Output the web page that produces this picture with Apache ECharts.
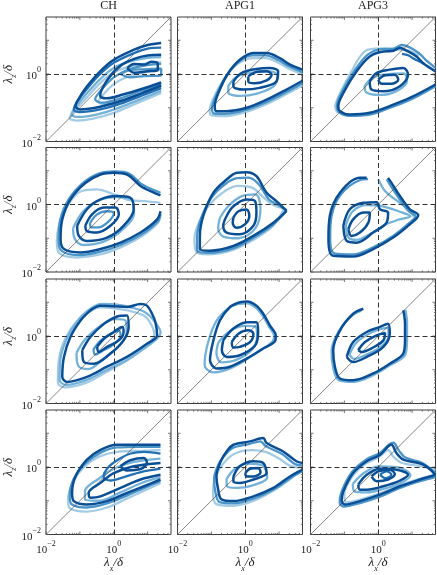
<!DOCTYPE html>
<html><head><meta charset="utf-8">
<script src="https://cdn.jsdelivr.net/npm/echarts@6/dist/echarts.min.js"></script>
<style>html,body{margin:0;padding:0;background:#fff}#c{width:437px;height:575px}</style>
</head><body><div id="c"></div>
<script>
// ---- column titles and axis ticks ----
const columnTitles = ['CH', 'APG1', 'APG3'];
const labelledDecades = [-2, 0];
const majorTicks = [0.01, 0.1, 1, 10];
const minorTicks = [0.02,0.03,0.04,0.05,0.06,0.07,0.08,0.09,0.2,0.3,0.4,0.5,0.6,0.7,0.8,0.9,2,3,4,5,6,7,8,9,20,30,40];
const AXIS_MIN = 0.01, AXIS_MAX = 48.98;

// ---- contour lines, points as [log10(lambda_x/delta), log10(lambda_z/delta)]; first item = case index (0 lightest .. 4 darkest) ----
const CH_1 = [
 [0,[[1.4,0.35],[0.9,0.3],[0.4,0.2],[0.0,0.05],[-0.4,-0.27],[-0.8,-0.7],[-1.15,-1.08],[-1.3,-1.3],[-1.1,-1.38],[-0.6,-1.32],[0.0,-1.15],[0.6,-0.9],[1.4,-0.56]]],
 [1,[[1.4,0.5],[1.0,0.48],[0.5,0.38],[0.0,0.18],[-0.4,-0.15],[-0.8,-0.58],[-1.1,-0.95],[-1.25,-1.2],[-1.05,-1.27],[-0.5,-1.2],[0.1,-1.02],[0.7,-0.78],[1.4,-0.5]]],
 [3,[[1.4,0.78],[1.0,0.75],[0.6,0.62],[0.0,0.33],[-0.4,0.0],[-0.8,-0.45],[-1.05,-0.78],[-1.18,-1.05],[-1.0,-1.13],[-0.4,-1.05],[0.2,-0.88],[0.8,-0.65],[1.4,-0.42]]],
 [4,[[1.4,0.92],[1.0,0.86],[0.6,0.72],[0.0,0.42],[-0.4,0.08],[-0.8,-0.38],[-1.0,-0.68],[-1.13,-0.95],[-1.0,-1.05],[-0.4,-0.97],[0.2,-0.8],[0.8,-0.58],[1.4,-0.34]]],
 [0,[[1.4,0.12],[0.9,0.05],[0.4,-0.08],[0.0,-0.3],[-0.3,-0.6],[-0.45,-0.82],[-0.25,-0.9],[0.3,-0.78],[0.9,-0.55],[1.4,-0.38]]],
 [2,[[1.4,0.3],[0.9,0.25],[0.4,0.12],[0.0,-0.1],[-0.35,-0.45],[-0.55,-0.75],[-0.35,-0.85],[0.2,-0.72],[0.8,-0.5],[1.4,-0.3]]],
 [4,[[1.4,0.57],[1.0,0.55],[0.6,0.45],[0.2,0.25],[-0.1,-0.05],[-0.35,-0.45],[-0.4,-0.65],[-0.2,-0.72],[0.3,-0.6],[0.8,-0.45],[1.4,-0.25]]],
 [2,[[0.2,0.0],[0.5,0.12],[0.9,0.14],[1.4,0.16],[1.4,-0.05],[0.9,-0.06],[0.5,-0.1],[0.2,0.0]]],
 [4,[[0.4,0.18],[0.6,0.3],[0.9,0.28],[1.1,0.36],[1.3,0.32],[1.3,0.12],[1.0,0.08],[0.6,0.04],[0.4,0.18]]]
];
const APG1_1 = [
 [0,[[1.69,0.0],[1.3,0.15],[1.0,0.32],[0.6,0.47],[0.2,0.47],[-0.25,0.28],[-0.6,-0.1],[-0.88,-0.6],[-1.05,-1.08],[-1.0,-1.22],[-0.65,-1.25],[0.0,-1.13],[0.6,-0.9],[1.2,-0.6],[1.69,-0.33]]],
 [2,[[1.69,0.05],[1.3,0.22],[1.0,0.4],[0.6,0.55],[0.2,0.55],[-0.2,0.35],[-0.55,-0.05],[-0.82,-0.55],[-0.98,-1.02],[-0.92,-1.17],[-0.6,-1.18],[0.0,-1.07],[0.6,-0.84],[1.2,-0.54],[1.69,-0.27]]],
 [4,[[1.69,0.13],[1.32,0.28],[1.02,0.47],[0.63,0.62],[0.24,0.62],[-0.16,0.42],[-0.5,0.03],[-0.75,-0.46],[-0.9,-0.95],[-0.85,-1.1],[-0.55,-1.1],[0.04,-1.0],[0.63,-0.76],[1.22,-0.46],[1.69,-0.2]]],
 [1,[[-0.5,-0.35],[-0.25,-0.08],[0.25,0.05],[0.75,0.08],[0.95,-0.05],[0.85,-0.35],[0.35,-0.58],[-0.15,-0.65],[-0.5,-0.55],[-0.5,-0.35]]],
 [4,[[-0.35,-0.22],[-0.11,0.03],[0.33,0.15],[0.73,0.18],[0.97,0.08],[0.92,-0.22],[0.43,-0.41],[-0.06,-0.46],[-0.35,-0.37],[-0.35,-0.22]]],
 [4,[[0.09,-0.07],[0.29,0.05],[0.63,0.08],[0.78,-0.02],[0.63,-0.19],[0.29,-0.27],[0.09,-0.22],[0.09,-0.07]]]
];
const APG3_1 = [
 [0,[[1.2,0.55],[0.9,0.7],[0.6,0.72],[0.2,0.76],[-0.3,0.72],[-0.55,0.5],[-0.8,0.05],[-1.12,-0.55],[-1.27,-0.98],[-1.2,-1.15]]],
 [2,[[1.69,0.18],[1.4,0.42],[1.2,0.62],[0.95,0.78],[0.7,0.86],[0.45,0.75],[0.1,0.74],[-0.3,0.58],[-0.7,0.1],[-1.08,-0.55],[-1.22,-0.95],[-1.17,-1.12],[-0.85,-1.24],[-0.25,-1.2],[0.35,-1.0],[0.95,-0.76],[1.69,-0.36]]],
 [4,[[1.69,0.08],[1.33,0.32],[1.13,0.52],[0.88,0.67],[0.64,0.77],[0.4,0.68],[0.15,0.67],[-0.25,0.52],[-0.64,0.08],[-1.03,-0.56],[-1.18,-0.95],[-1.13,-1.1],[-0.84,-1.2],[-0.25,-1.15],[0.34,-0.95],[0.93,-0.71],[1.69,-0.31]]],
 [3,[[0.7,0.6],[0.9,0.55],[1.05,0.45],[1.2,0.38],[1.35,0.3]]],
 [1,[[-0.4,-0.35],[-0.15,-0.1],[0.3,0.0],[0.75,0.02],[0.85,-0.2],[0.55,-0.5],[0.05,-0.62],[-0.35,-0.55],[-0.4,-0.35]]],
 [4,[[-0.25,-0.22],[-0.05,0.03],[0.34,0.13],[0.74,0.18],[0.88,-0.02],[0.64,-0.36],[0.15,-0.51],[-0.2,-0.46],[-0.25,-0.22]]],
 [4,[[0.0,-0.17],[0.2,-0.04],[0.49,-0.02],[0.59,-0.17],[0.39,-0.29],[0.1,-0.29],[0.0,-0.17]]]
];
const CH_2 = [
 [0,[[1.38,0.05],[0.9,0.1],[0.5,0.12],[0.0,0.3],[-0.5,0.45],[-0.95,0.4],[-1.35,0.0],[-1.6,-0.55],[-1.68,-1.1],[-1.6,-1.45],[-1.1,-1.57],[-0.4,-1.48],[0.2,-1.27],[0.8,-0.96],[1.3,-0.55],[1.38,-0.3]]],
 [2,[[1.38,0.35],[1.2,0.42],[0.8,0.62],[0.45,0.92],[0.05,0.98],[-0.4,0.93],[-0.88,0.66],[-1.33,0.15],[-1.58,-0.45],[-1.63,-1.05],[-1.53,-1.38],[-1.0,-1.5],[-0.4,-1.4],[0.2,-1.2],[0.8,-0.9],[1.3,-0.5],[1.38,-0.28]]],
 [4,[[1.38,0.27],[1.18,0.35],[0.79,0.55],[0.39,0.89],[0.0,0.94],[-0.39,0.89],[-0.84,0.64],[-1.28,0.15],[-1.52,-0.44],[-1.57,-1.03],[-1.47,-1.32],[-0.98,-1.42],[-0.39,-1.32],[0.2,-1.13],[0.79,-0.83],[1.28,-0.44],[1.38,-0.2]]],
 [1,[[-1.2,-0.7],[-0.9,-0.2],[-0.45,0.12],[0.1,0.22],[0.55,0.12],[0.6,-0.25],[0.25,-0.75],[-0.3,-1.1],[-0.9,-1.2],[-1.15,-1.02],[-1.2,-0.7]]],
 [4,[[-1.08,-0.63],[-0.79,-0.14],[-0.39,0.15],[0.1,0.25],[0.49,0.2],[0.59,-0.14],[0.29,-0.63],[-0.2,-0.98],[-0.79,-1.08],[-1.03,-0.93],[-1.08,-0.63]]],
 [2,[[-0.7,-0.55],[-0.5,-0.3],[-0.2,-0.2],[0.0,-0.25],[-0.15,-0.5],[-0.45,-0.68],[-0.68,-0.68],[-0.7,-0.55]]],
 [4,[[-0.84,-0.63],[-0.64,-0.29],[-0.29,-0.09],[0.05,-0.09],[0.15,-0.29],[-0.1,-0.63],[-0.5,-0.83],[-0.79,-0.79],[-0.84,-0.63]]]
];
const APG1_2 = [
 [0,[[1.15,-0.12],[0.8,0.0],[0.5,0.25],[0.2,0.5],[-0.2,0.55],[-0.6,0.4],[-1.05,0.0],[-1.35,-0.5],[-1.5,-1.0],[-1.45,-1.4],[-1.1,-1.48],[-0.4,-1.36],[0.2,-1.07],[0.8,-0.65],[1.15,-0.12]]],
 [2,[[1.22,-0.17],[0.95,0.0],[0.7,0.15],[0.4,0.6],[0.1,0.8],[-0.25,0.78],[-0.6,0.6],[-1.0,0.2],[-1.3,-0.4],[-1.42,-0.95],[-1.42,-1.36],[-1.06,-1.43],[-0.36,-1.3],[0.22,-1.0],[0.82,-0.6],[1.22,-0.17]]],
 [4,[[1.22,-0.19],[0.92,0.1],[0.63,0.35],[0.33,0.84],[0.04,0.96],[-0.25,0.94],[-0.55,0.74],[-0.94,0.35],[-1.24,-0.34],[-1.34,-0.93],[-1.34,-1.32],[-1.04,-1.37],[-0.35,-1.23],[0.24,-0.93],[0.83,-0.54],[1.22,-0.19]]],
 [1,[[-0.75,-0.4],[-0.5,-0.05],[-0.1,0.25],[0.3,0.3],[0.45,-0.1],[0.3,-0.7],[-0.2,-1.0],[-0.65,-0.95],[-0.8,-0.7],[-0.75,-0.4]]],
 [4,[[-0.55,-0.34],[-0.35,-0.05],[0.04,0.15],[0.29,0.1],[0.33,-0.24],[0.24,-0.63],[-0.16,-0.88],[-0.55,-0.83],[-0.65,-0.63],[-0.55,-0.34]]],
 [4,[[-0.35,-0.39],[-0.2,-0.2],[0.04,-0.15],[0.12,-0.34],[-0.01,-0.59],[-0.26,-0.69],[-0.37,-0.54],[-0.35,-0.39]]]
];
const APG3_2 = [
 [1,[[0.0,0.75],[0.2,0.4],[0.5,0.15],[0.9,-0.15],[1.05,-0.35]]],
 [2,[[-0.3,0.75],[-0.55,0.72],[-1.1,0.3],[-1.38,-0.35],[-1.42,-1.0],[-1.3,-1.45],[-0.74,-1.48],[-0.15,-1.27],[0.44,-0.93],[0.9,-0.56],[1.1,-0.34],[0.9,-0.2],[0.6,0.2],[0.35,0.58],[0.25,0.75]]],
 [4,[[-0.34,0.79],[-0.54,0.79],[-1.13,0.35],[-1.43,-0.34],[-1.47,-1.03],[-1.33,-1.52],[-0.74,-1.54],[-0.15,-1.32],[0.44,-0.98],[0.93,-0.59],[1.18,-0.32],[0.93,-0.14],[0.64,0.25],[0.39,0.64],[0.29,0.79]]],
 [1,[[-0.95,-0.6],[-0.75,-0.2],[-0.35,-0.02],[0.1,-0.05],[0.6,-0.2],[0.95,-0.35],[0.6,-0.45],[0.2,-0.6],[-0.2,-0.85],[-0.65,-1.05],[-0.9,-0.95],[-0.95,-0.6]]],
 [4,[[-1.03,-0.63],[-0.84,-0.14],[-0.44,0.05],[-0.05,0.07],[0.05,-0.14],[0.29,-0.24],[0.25,-0.53],[-0.15,-0.83],[-0.64,-1.13],[-0.93,-1.08],[-1.03,-0.63]]],
 [4,[[-0.88,-0.73],[-0.74,-0.44],[-0.44,-0.24],[-0.25,-0.24],[-0.29,-0.53],[-0.54,-0.83],[-0.79,-0.93],[-0.88,-0.73]]]
];
const CH_3 = [
 [0,[[-0.75,0.7],[-0.4,0.85],[0.0,0.82],[0.45,0.75],[0.9,0.6],[1.1,0.35],[1.2,0.05],[0.95,-0.3],[0.4,-0.72],[-0.2,-1.06],[-0.8,-1.38],[-1.45,-1.52],[-1.65,-1.38],[-1.62,-0.7],[-1.42,-0.05],[-1.1,0.42],[-0.75,0.7]]],
 [1,[[-0.7,0.8],[-0.35,0.95],[0.1,0.93],[0.5,0.85],[0.9,0.72],[1.15,0.5],[1.38,0.1],[1.3,-0.05],[1.0,-0.3],[0.4,-0.7],[-0.2,-1.0],[-0.8,-1.3],[-1.4,-1.45],[-1.6,-1.3],[-1.57,-0.65],[-1.35,0.0],[-1.03,0.5],[-0.7,0.8]]],
 [4,[[-0.69,0.76],[-0.39,0.9],[0.0,0.88],[0.39,0.86],[0.79,0.95],[0.98,0.9],[1.13,0.66],[1.23,0.41],[1.28,0.02],[0.98,-0.23],[0.39,-0.62],[-0.2,-0.91],[-0.79,-1.21],[-1.38,-1.36],[-1.52,-1.21],[-1.47,-0.62],[-1.28,-0.03],[-0.98,0.46],[-0.69,0.76]]],
 [1,[[-1.1,-0.5],[-0.85,-0.1],[-0.4,0.3],[0.05,0.5],[0.35,0.45],[0.38,0.1],[0.15,-0.3],[-0.3,-0.68],[-0.75,-0.98],[-1.05,-0.88],[-1.1,-0.5]]],
 [4,[[-0.93,-0.42],[-0.69,-0.03],[-0.29,0.36],[0.1,0.58],[0.39,0.61],[0.44,0.27],[0.29,-0.13],[-0.1,-0.52],[-0.59,-0.82],[-0.88,-0.77],[-0.93,-0.42]]],
 [2,[[-0.6,-0.4],[-0.4,-0.15],[-0.1,0.05],[0.15,0.15],[0.2,0.0],[0.0,-0.25],[-0.35,-0.45],[-0.55,-0.55],[-0.6,-0.4]]],
 [4,[[-0.49,-0.32],[-0.29,-0.08],[0.0,0.12],[0.25,0.27],[0.29,0.12],[0.15,-0.13],[-0.2,-0.32],[-0.44,-0.47],[-0.49,-0.32]]]
];
const APG1_3 = [
 [1,[[-0.2,0.95],[0.05,0.97],[0.3,0.85],[0.5,0.62],[0.7,0.28],[0.85,0.0],[0.8,-0.17],[0.45,-0.42],[0.0,-0.72],[-0.5,-0.98],[-0.95,-1.08],[-1.2,-0.85],[-1.1,-0.2],[-0.85,0.45],[-0.5,0.82],[-0.2,0.95]]],
 [4,[[-0.16,1.0],[0.04,1.02],[0.33,0.9],[0.53,0.66],[0.73,0.31],[0.9,0.02],[0.89,-0.13],[0.53,-0.37],[0.04,-0.67],[-0.45,-0.91],[-0.85,-0.96],[-1.04,-0.72],[-0.94,-0.13],[-0.75,0.46],[-0.45,0.86],[-0.16,1.0]]],
 [1,[[-0.8,-0.2],[-0.45,0.15],[0.0,0.3],[0.3,0.28],[0.35,0.0],[0.2,-0.4],[-0.25,-0.7],[-0.7,-0.78],[-0.85,-0.5],[-0.8,-0.2]]],
 [4,[[-0.65,-0.13],[-0.35,0.22],[0.04,0.41],[0.33,0.41],[0.38,0.12],[0.29,-0.28],[-0.16,-0.57],[-0.55,-0.62],[-0.69,-0.42],[-0.65,-0.13]]],
 [4,[[-0.4,-0.18],[-0.2,0.07],[0.09,0.17],[0.24,0.07],[0.14,-0.18],[-0.16,-0.32],[-0.35,-0.34],[-0.4,-0.18]]]
];
const APG3_3 = [
 [1,[[-0.5,0.75],[-0.78,0.6],[-1.18,0.12],[-1.38,-0.45],[-1.33,-0.95],[-1.18,-1.3],[-0.74,-1.36],[-0.15,-1.16],[0.34,-0.87],[0.8,-0.55],[0.85,-0.1],[0.85,0.4],[0.8,0.78]]],
 [4,[[-0.44,0.81],[-0.74,0.66],[-1.13,0.17],[-1.33,-0.42],[-1.28,-0.91],[-1.13,-1.26],[-0.74,-1.31],[-0.15,-1.11],[0.34,-0.82],[0.74,-0.52],[0.79,-0.13],[0.79,0.36],[0.74,0.76]]],
 [1,[[-0.85,-0.55],[-0.65,-0.2],[-0.3,0.05],[0.05,0.2],[0.3,0.25],[0.3,0.0],[0.1,-0.3],[-0.35,-0.55],[-0.7,-0.68],[-0.85,-0.55]]],
 [4,[[-0.93,-0.62],[-0.74,-0.18],[-0.34,0.12],[0.05,0.27],[0.29,0.36],[0.34,0.07],[0.15,-0.32],[-0.34,-0.62],[-0.74,-0.77],[-0.93,-0.62]]],
 [4,[[-0.59,-0.42],[-0.39,-0.18],[-0.05,0.02],[0.2,0.09],[0.15,-0.13],[-0.15,-0.34],[-0.49,-0.47],[-0.59,-0.42]]]
];
const CH_4 = [
 [0,[[1.38,0.5],[0.8,0.48],[0.1,0.45],[-0.45,0.3],[-0.88,0.0],[-1.2,-0.45],[-1.35,-0.95],[-1.3,-1.22],[-0.8,-1.32],[-0.2,-1.2],[0.4,-0.93],[0.9,-0.7],[1.38,-0.48]]],
 [2,[[1.38,0.6],[0.8,0.6],[0.1,0.58],[-0.4,0.42],[-0.82,0.12],[-1.18,-0.35],[-1.3,-0.85],[-1.25,-1.1],[-0.8,-1.2],[-0.2,-1.08],[0.4,-0.84],[0.9,-0.62],[1.38,-0.42]]],
 [4,[[1.38,0.66],[0.79,0.66],[0.1,0.66],[-0.39,0.51],[-0.79,0.22],[-1.13,-0.28],[-1.23,-0.77],[-1.18,-1.01],[-0.79,-1.11],[-0.2,-1.01],[0.39,-0.77],[0.89,-0.57],[1.38,-0.37]]],
 [1,[[1.38,0.25],[0.6,0.15],[0.0,-0.05],[-0.45,-0.35],[-0.85,-0.72],[-0.85,-0.98],[-0.45,-1.0],[0.2,-0.75],[0.8,-0.48],[1.38,-0.3]]],
 [4,[[1.38,0.12],[0.59,0.02],[0.0,-0.18],[-0.39,-0.47],[-0.74,-0.77],[-0.69,-0.91],[-0.39,-0.87],[0.2,-0.62],[0.79,-0.37],[1.38,-0.23]]],
 [3,[[1.38,0.4],[0.9,0.45],[0.5,0.4],[0.1,0.2],[-0.2,-0.05],[-0.3,-0.3],[-0.1,-0.4],[0.3,-0.3],[0.8,-0.15],[1.38,-0.05]]],
 [4,[[0.2,0.02],[0.49,0.2],[0.89,0.27],[0.98,0.12],[0.79,-0.06],[0.39,-0.1],[0.2,0.02]]]
];
const APG1_4 = [
 [0,[[1.6,-0.02],[1.3,0.05],[1.0,0.25],[0.6,0.45],[0.2,0.5],[-0.3,0.4],[-0.65,0.1],[-0.9,-0.35],[-0.95,-0.8],[-0.85,-1.1],[-0.4,-1.15],[0.2,-1.02],[0.8,-0.72],[1.3,-0.38],[1.6,-0.1]]],
 [2,[[1.69,0.05],[1.45,0.1],[1.1,0.38],[0.6,0.62],[0.45,0.76],[0.1,0.68],[-0.38,0.56],[-0.6,0.35],[-0.78,0.1],[-0.92,-0.35],[-0.88,-0.75],[-0.76,-1.04],[-0.35,-1.08],[0.24,-0.94],[0.85,-0.66],[1.35,-0.32],[1.69,-0.12]]],
 [4,[[1.69,0.12],[1.51,0.17],[1.12,0.46],[0.63,0.71],[0.53,0.86],[0.14,0.76],[-0.35,0.66],[-0.55,0.46],[-0.7,0.22],[-0.85,-0.28],[-0.8,-0.67],[-0.7,-0.96],[-0.35,-1.01],[0.24,-0.87],[0.83,-0.62],[1.32,-0.28],[1.69,-0.08]]],
 [1,[[-0.55,-0.35],[-0.3,-0.05],[0.1,0.1],[0.5,0.05],[0.65,-0.3],[0.2,-0.55],[-0.25,-0.62],[-0.55,-0.55],[-0.55,-0.35]]],
 [4,[[-0.35,-0.28],[-0.16,0.02],[0.24,0.17],[0.53,0.12],[0.63,-0.18],[0.24,-0.37],[-0.16,-0.47],[-0.35,-0.42],[-0.35,-0.28]]],
 [4,[[0.0,-0.18],[0.14,-0.05],[0.39,-0.03],[0.45,-0.16],[0.24,-0.28],[0.04,-0.28],[0.0,-0.18]]]
];
const APG3_4 = [
 [0,[[1.69,-0.1],[1.3,0.02],[0.7,0.12],[0.45,0.3],[0.3,0.5],[0.0,0.28],[-0.4,0.08],[-0.78,-0.3],[-1.0,-0.8],[-0.95,-1.05],[-0.5,-0.96],[0.1,-0.76],[0.7,-0.52],[1.3,-0.33],[1.69,-0.25]]],
 [2,[[1.69,-0.18],[1.3,0.12],[0.8,0.28],[0.6,0.5],[0.45,0.72],[0.33,0.68],[0.05,0.42],[-0.36,0.22],[-0.78,-0.15],[-1.08,-0.72],[-1.14,-1.05],[-1.02,-1.17],[-0.54,-1.07],[0.05,-0.88],[0.64,-0.62],[1.23,-0.42],[1.69,-0.3]]],
 [4,[[1.69,-0.23],[1.33,0.07],[0.74,0.22],[0.54,0.41],[0.39,0.66],[0.29,0.61],[0.05,0.36],[-0.34,0.17],[-0.74,-0.18],[-1.03,-0.72],[-1.08,-1.01],[-0.98,-1.11],[-0.54,-1.01],[0.05,-0.82],[0.64,-0.57],[1.23,-0.37],[1.69,-0.23]]],
 [1,[[-0.75,-0.5],[-0.45,-0.2],[0.0,0.02],[0.55,0.0],[0.95,-0.25],[0.65,-0.48],[0.15,-0.65],[-0.35,-0.75],[-0.7,-0.72],[-0.75,-0.5]]],
 [4,[[-0.59,-0.52],[-0.34,-0.23],[0.05,-0.05],[0.54,-0.08],[0.88,-0.23],[0.64,-0.4],[0.15,-0.57],[-0.34,-0.67],[-0.54,-0.67],[-0.59,-0.52]]],
 [4,[[-0.2,-0.28],[0.0,-0.13],[0.34,-0.08],[0.49,-0.21],[0.29,-0.37],[-0.05,-0.42],[-0.2,-0.28]]],
 [3,[[0.05,-0.23],[0.25,-0.13],[0.39,-0.23],[0.22,-0.33],[0.05,-0.23]]]
];
const panels = [
  [CH_1, APG1_1, APG3_1],
  [CH_2, APG1_2, APG3_2],
  [CH_3, APG1_3, APG3_3],
  [CH_4, APG1_4, APG3_4]
];

// ---- styling / layout ----
const SHADES = ['#a3cce4', '#74b2da', '#4a94c8', '#2270b3', '#0a4f96'];
const colLeft = [46, 177.5, 310.5];
const rowTop = [17, 147.5, 279, 410];
const PW = 125, PH = 124.5;
const SERIF = '"Liberation Serif","DejaVu Serif",serif';

const richNum = {
  b: {fontFamily: SERIF, fontSize: 11, color: '#222', lineHeight: 16, verticalAlign: 'bottom'},
  s: {fontFamily: SERIF, fontSize: 8, color: '#222', lineHeight: 7, verticalAlign: 'top'}
};
const richName = {
  i: {fontFamily: SERIF, fontSize: 13, fontStyle: 'italic', color: '#222', lineHeight: 16, verticalAlign: 'top'},
  u: {fontFamily: SERIF, fontSize: 8, fontStyle: 'italic', color: '#222', lineHeight: 8, verticalAlign: 'bottom'}
};
function fmt(v) {
  const e = Math.round(Math.log10(v));
  if (Math.abs(Math.log10(v) - e) > 1e-6 || labelledDecades.indexOf(e) < 0) return '';
  return '{b|10}{s|' + (e < 0 ? '\u2212' + (-e) : e) + '}';
}
const tickData = majorTicks.map(v => [v, 3]).concat(minorTicks.map(v => [v, 1.6]));

const grids = [], xAxes = [], yAxes = [], series = [], titles = [];
columnTitles.forEach((t, c) => titles.push({
  text: t, left: colLeft[c] + PW / 2, top: 0, textAlign: 'center', padding: 0,
  textStyle: {fontFamily: SERIF, fontSize: 12, fontWeight: 'normal', color: '#222'}
}));

panels.forEach((row, r) => row.forEach((contours, c) => {
  const i = grids.length;
  grids.push({left: colLeft[c], top: rowTop[r], width: PW, height: PH, show: true,
    borderColor: '#3c3c3c', borderWidth: 1, backgroundColor: 'transparent'});
  xAxes.push({gridIndex: i, type: 'log', logBase: 10, min: AXIS_MIN, max: AXIS_MAX,
    axisLine: {show: false}, axisTick: {show: false}, splitLine: {show: false},
    axisLabel: {show: r === 3, formatter: fmt, margin: 5, rich: richNum, showMaxLabel: false},
    name: r === 3 ? '{i|\u03bb}{u|x}{i|/\u03b4}' : '', nameLocation: 'middle', nameGap: 22,
    nameTextStyle: {rich: richName, padding: [0, 0, 0, 10]}});
  yAxes.push({gridIndex: i, type: 'log', logBase: 10, min: AXIS_MIN, max: AXIS_MAX,
    axisLine: {show: false}, axisTick: {show: false}, splitLine: {show: false},
    axisLabel: {show: c === 0, formatter: fmt, margin: 5, rich: richNum, showMaxLabel: false},
    name: c === 0 ? '{i|\u03bb}{u|z}{i|/\u03b4}' : '', nameLocation: 'middle', nameGap: 24, nameRotate: 90,
    nameTextStyle: {rich: richName, padding: [0, 0, 0, 10]}});
  // reference lines: lambda=delta dashed, and diagonal
  series.push({type: 'line', xAxisIndex: i, yAxisIndex: i, data: [[1, 1]], showSymbol: false,
    lineStyle: {opacity: 0}, silent: true, z: 1, animation: false,
    markLine: {symbol: ['none', 'none'], silent: true, animation: false, label: {show: false},
      data: [
        {xAxis: 1, lineStyle: {type: [5, 3], color: '#333', width: 1}},
        {yAxis: 1, lineStyle: {type: [5, 3], color: '#333', width: 1}},
        [{coord: [AXIS_MIN, AXIS_MIN], lineStyle: {type: 'solid', color: '#333', width: 0.6}}, {coord: [AXIS_MAX, AXIS_MAX]}]
      ]}});
  // inward ticks on all four sides
  series.push({type: 'custom', xAxisIndex: i, yAxisIndex: i, coordinateSystem: 'cartesian2d',
    data: tickData, clip: false, silent: true, z: 1, animation: false,
    renderItem: (params, api) => {
      const v = api.value(0), len = api.value(1);
      const cs = params.coordSys;
      const px = api.coord([v, 1])[0];
      const py = api.coord([1, v])[1];
      const st = {stroke: '#555', lineWidth: 0.8};
      const b = cs.y + cs.height, t = cs.y, l = cs.x, rr = cs.x + cs.width;
      return {type: 'group', children: [
        {type: 'line', shape: {x1: px, y1: b, x2: px, y2: b - len}, style: st},
        {type: 'line', shape: {x1: px, y1: t, x2: px, y2: t + len}, style: st},
        {type: 'line', shape: {x1: l, y1: py, x2: l + len, y2: py}, style: st},
        {type: 'line', shape: {x1: rr, y1: py, x2: rr - len, y2: py}, style: st}
      ]};
    }});
  contours.slice().sort((a, b) => a[0] - b[0]).forEach(([k, pts]) => {
    series.push({type: 'line', xAxisIndex: i, yAxisIndex: i, smooth: 0.35, showSymbol: false,
      symbol: 'none', silent: true, animation: false, z: 2 + k,
      lineStyle: {color: SHADES[k], width: k === 4 ? 2.5 : 2.3},
      data: pts.map(p => [Math.pow(10, p[0]), Math.pow(10, p[1])])});
  });
}));

const chart = echarts.init(document.getElementById('c'), null, {renderer: 'canvas'});
chart.setOption({backgroundColor: '#fff', animation: false, title: titles,
  grid: grids, xAxis: xAxes, yAxis: yAxes, series: series});
</script></body></html>
